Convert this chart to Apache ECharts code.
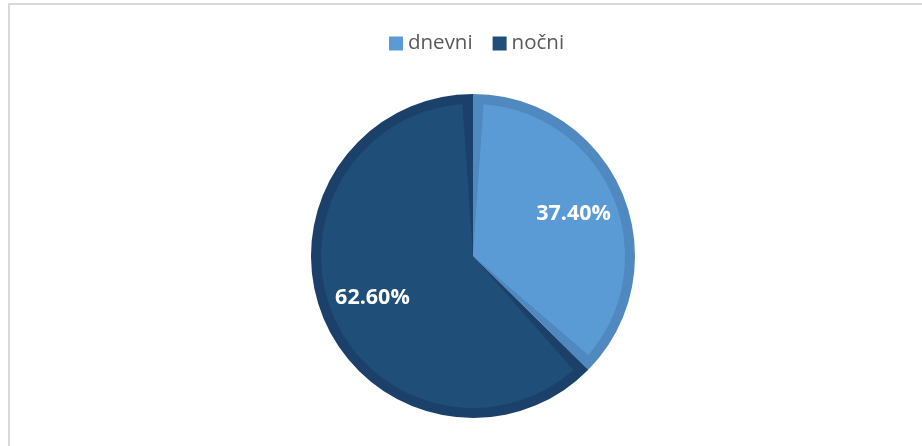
<!DOCTYPE html>
<html>
<head>
<meta charset="utf-8">
<script src="https://cdn.jsdelivr.net/npm/echarts@6/dist/echarts.min.js"></script>
<style>
  html, body { margin: 0; padding: 0; background: #ffffff; }
  #frame { position: absolute; left: 8px; top: 3px; width: 930px; height: 460px;
           border-top: 2px solid #d9d9d9; border-left: 2px solid #d9d9d9; box-sizing: border-box; }
  #chart { position: absolute; left: 0; top: 0; width: 922px; height: 446px; }
</style>
</head>
<body>
<div id="frame"></div>
<div id="chart"></div>
<script>
const categories = ['dnevni', 'nočni'];
const values = [37.4, 62.6];
const fillColors = ['#5b9bd5', '#1f4e79'];
const bevelColors = ['#4f89c0', '#1b416a'];

const chart = echarts.init(document.getElementById('chart'), null, { renderer: 'canvas' });
const center = [473, 256];

function makeData(colors) {
  return categories.map((c, i) => ({ name: c, value: values[i], itemStyle: { color: colors[i] } }));
}

const option = {
  animation: false,
  backgroundColor: 'transparent',
  legend: {
    data: categories.map((c, i) => ({ name: c, itemStyle: { color: fillColors[i] } })),
    left: 389, top: 33, padding: 0,
    icon: 'rect', itemWidth: 14, itemHeight: 14, itemGap: 20,
    selectedMode: false,
    textStyle: { fontFamily: 'Open Sans', fontSize: 20.5, color: '#595959' }
  },
  series: [
    {
      type: 'pie', name: 'bevel', z: 1, silent: true,
      center: center, radius: [0, 162], startAngle: 90, clockwise: true,
      label: { show: false }, labelLine: { show: false },
      emphasis: { disabled: true },
      data: makeData(bevelColors)
    },
    {
      type: 'pie', name: 'fill', z: 2, silent: true,
      center: center, radius: [0, 152], startAngle: 90, clockwise: true, padAngle: 8,
      label: { show: false }, labelLine: { show: false },
      emphasis: { disabled: true },
      data: makeData(fillColors)
    },
    {
      type: 'pie', name: 'labels', z: 3, silent: true,
      center: center, radius: [50, 162], startAngle: 90, clockwise: true,
      itemStyle: { color: 'rgba(0,0,0,0)' },
      label: {
        show: true, position: 'inside',
        formatter: p => p.value.toFixed(2) + '%',
        color: '#ffffff', fontFamily: 'Open Sans', fontWeight: 'bold', fontSize: 21.5
      },
      labelLine: { show: false },
      emphasis: { disabled: true },
      data: categories.map((c, i) => ({ name: c, value: values[i] }))
    }
  ]
};
chart.setOption(option);
</script>
</body>
</html>
